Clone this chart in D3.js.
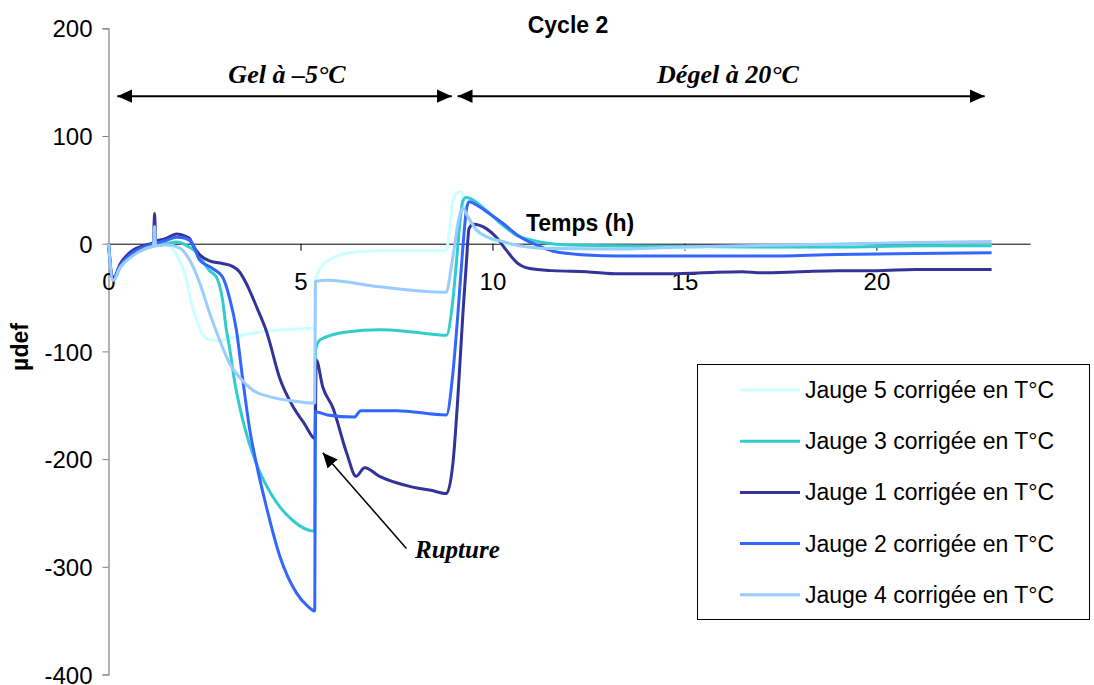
<!DOCTYPE html>
<html><head><meta charset="utf-8">
<script src="https://cdn.jsdelivr.net/npm/d3@7"></script>
<style>body{margin:0;background:#fff}</style>
</head><body>
<svg id="c" width="1094" height="685"></svg>
<script>
// ---- data (time in h, strain in µdef) ----
const xTicks = [0, 5, 10, 15, 20];
const yTicks = [-400, -300, -200, -100, 0, 100, 200];
const seriesNames = [
  "Jauge 5 corrigée en T°C",
  "Jauge 3 corrigée en T°C",
  "Jauge 1 corrigée en T°C",
  "Jauge 2 corrigée en T°C",
  "Jauge 4 corrigée en T°C"
];
const seriesColors = ["#ccffff", "#33cccc", "#333399", "#3366ff", "#99ccff"];

const jauge5 = [[0,0],[0.12,-34],[0.3,-23],[0.6,-12],[1.0,-4],[1.51,-1],[1.8,-12],[1.98,-27],[2.16,-55],[2.32,-74],[2.55,-88],[2.81,-90],[3.6,-84],[4.5,-80],[5.37,-78],[5.39,-34],[5.55,-21],[5.81,-14],[6.15,-9],[7.06,-6.5],[8.8,-6],[8.88,12],[8.97,40],[9.06,47],[9.19,48],[9.3,30],[9.5,15],[9.9,5],[10.3,0],[11,-3],[13,-4],[16,-4],[19,-3],[23,-2]];
const jauge3 = [[0,0],[0.12,-34],[0.3,-22],[0.6,-11],[1.0,-4],[1.5,0],[1.77,1.5],[2.0,-1],[2.29,-8],[2.63,-25],[2.81,-31],[2.97,-52],[3.07,-80],[3.15,-96],[3.28,-127],[3.5,-164],[3.85,-204],[4.28,-235],[4.8,-257],[5.37,-267],[5.39,-99],[5.52,-89],[6.2,-82],[7.06,-80],[7.92,-82],[8.8,-85],[8.97,-52],[9.06,-18],[9.15,19],[9.23,40],[9.32,43],[9.84,31],[10.27,17],[10.71,6.5],[11.05,3],[11.9,-1],[13,-2],[15,-2.5],[17,-3],[19,-3],[21,-2],[23,-2]];
const jauge1 = [[0,0],[0.12,-33],[0.3,-19],[0.6,-7],[1.0,-1],[1.17,1],[1.2,28],[1.23,3],[1.5,5],[1.77,9],[2.0,7],[2.11,5],[2.19,-1],[2.37,-10],[2.63,-16],[2.9,-18],[3.23,-21],[3.41,-26],[3.67,-43],[3.86,-59],[4.12,-82],[4.46,-125],[4.8,-151],[5.1,-167],[5.38,-181],[5.41,-108],[5.58,-133],[5.84,-152],[6.2,-194],[6.45,-216],[6.67,-208],[7.06,-216],[7.5,-222],[7.92,-226],[8.4,-229],[8.8,-232],[8.97,-204],[9.1,-142],[9.23,-65],[9.32,-18],[9.39,14],[9.5,18],[9.84,14],[10.1,6],[10.36,-6],[10.62,-17],[10.97,-23],[11.57,-25],[12.45,-26],[13.3,-28],[14.5,-28],[15.5,-27],[16.5,-26],[17,-27],[18,-26],[19,-25],[20,-25],[21,-24],[22,-24],[23,-24]];
const jauge2 = [[0,0],[0.12,-34],[0.3,-21],[0.6,-9],[1.0,-2],[1.5,3],[1.77,6],[2.0,5],[2.19,0],[2.37,-15],[2.71,-23],[2.97,-31],[3.15,-50],[3.33,-80],[3.5,-127],[3.68,-173],[3.85,-204],[4.11,-244],[4.46,-290],[4.89,-324],[5.2,-337],[5.37,-341],[5.39,-156],[5.7,-159],[6.4,-161],[6.57,-155],[7.5,-155],[8.8,-159],[8.97,-120],[9.1,-65],[9.23,-3],[9.32,31],[9.39,39],[9.67,34],[9.84,30],[10.27,19],[10.71,6.5],[11.14,-1],[11.58,-7],[12.45,-10.5],[13.3,-11.4],[15,-11.5],[17,-11.5],[19,-10],[21,-9],[23,-8.5]];
const jauge4 = [[0,0],[0.12,-34],[0.3,-22],[0.6,-12],[1.0,-4],[1.17,-2],[1.2,16],[1.23,-2],[1.51,-1],[1.85,-4],[2.11,-15],[2.37,-36],[2.63,-64],[2.89,-89],[3.15,-111],[3.41,-124],[3.76,-136],[4.19,-142],[4.8,-146],[5.37,-148],[5.39,-35],[5.7,-34],[7.06,-40],[8.8,-45],[8.93,-21],[9.01,-3],[9.1,19],[9.23,33],[9.36,25],[9.58,13],[9.88,6],[10.27,2],[10.71,-2],[11.5,-4.5],[13,-5],[15,-3],[18,-1],[21,1],[23,2]];
const seriesData = [jauge5, jauge3, jauge1, jauge2, jauge4];

// annotations (data units)
const gelArrow = [0.23, 8.94];
const degelArrow = [9.09, 22.82];
const phaseArrowY = 137;
const ruptureArrow = [[7.76, -283], [5.58, -194]];

// ---- drawing ----
const svg = d3.select("#c");
const x = d3.scaleLinear().domain([0, 24]).range([108.5, 1030]);
const y = d3.scaleLinear().domain([-400, 200]).range([674.5, 28.3]);
const sans = "'Liberation Sans', Arial, sans-serif";
const serif = "'Liberation Serif', 'Times New Roman', serif";

// y axis
const yAxis = svg.append("g").attr("transform", `translate(${x(0)},0)`)
  .call(d3.axisLeft(y).tickValues(yTicks).tickSize(6).tickPadding(10).tickFormat(d => String(d)));
yAxis.select(".domain").attr("stroke", "#808080").attr("stroke-width", 1.2);
yAxis.selectAll(".tick line").attr("stroke", "#808080");
yAxis.selectAll(".tick text").attr("font-family", sans).attr("font-size", 24).attr("fill", "#000")
  .attr("dy", "0.36em");

// x axis at y=0
const xAxis = svg.append("g").attr("transform", `translate(0,${y(0)})`)
  .call(d3.axisBottom(x).tickValues(xTicks).tickSize(7).tickPadding(22).tickSizeOuter(0).tickFormat(d => String(d)));
xAxis.select(".domain").attr("stroke", "#000").attr("stroke-width", 1);
xAxis.selectAll(".tick line").attr("stroke", "#000");
xAxis.selectAll(".tick text").attr("font-family", sans).attr("font-size", 24).attr("fill", "#000");

// lines
const line = d3.line().x(d => x(d[0])).y(d => y(d[1])).curve(d3.curveMonotoneX);
svg.append("g").selectAll("path").data(seriesData).join("path")
  .attr("d", line).attr("fill", "none")
  .attr("stroke", (d, i) => seriesColors[i])
  .attr("stroke-width", 3).attr("stroke-linejoin", "round");

// titles
svg.append("text").attr("x", 568).attr("y", 33).attr("text-anchor", "middle")
  .attr("font-family", sans).attr("font-weight", "bold").attr("font-size", 23).text("Cycle 2");
svg.append("text").attr("x", 580).attr("y", 231).attr("text-anchor", "middle")
  .attr("font-family", sans).attr("font-weight", "bold").attr("font-size", 23).text("Temps (h)");
svg.append("text").attr("transform", "translate(28,347) rotate(-90)").attr("text-anchor", "middle")
  .attr("font-family", sans).attr("font-weight", "bold").attr("font-size", 23).text("µdef");

// phase arrows
const defs = svg.append("defs");
defs.append("marker").attr("id", "ah").attr("viewBox", "0 0 10 10").attr("refX", 10).attr("refY", 5)
  .attr("markerWidth", 15).attr("markerHeight", 15).attr("markerUnits", "userSpaceOnUse")
  .attr("orient", "auto-start-reverse")
  .append("path").attr("d", "M0,0.5 L10,5 L0,9.5 Z").attr("fill", "#000");
function dblArrow(a) {
  svg.append("line").attr("x1", x(a[0])).attr("x2", x(a[1])).attr("y1", y(phaseArrowY)).attr("y2", y(phaseArrowY))
    .attr("stroke", "#000").attr("stroke-width", 2)
    .attr("marker-start", "url(#ah)").attr("marker-end", "url(#ah)");
}
dblArrow(gelArrow);
dblArrow(degelArrow);
svg.append("text").attr("x", 287).attr("y", 83).attr("text-anchor", "middle")
  .attr("font-family", serif).attr("font-style", "italic").attr("font-weight", "bold").attr("font-size", 26)
  .text("Gel à –5°C");
svg.append("text").attr("x", 728).attr("y", 83).attr("text-anchor", "middle")
  .attr("font-family", serif).attr("font-style", "italic").attr("font-weight", "bold").attr("font-size", 26)
  .text("Dégel à 20°C");

// rupture annotation
svg.append("line")
  .attr("x1", x(ruptureArrow[0][0])).attr("y1", y(ruptureArrow[0][1]))
  .attr("x2", x(ruptureArrow[1][0])).attr("y2", y(ruptureArrow[1][1]))
  .attr("stroke", "#000").attr("stroke-width", 1.5).attr("marker-end", "url(#ah)");
svg.append("text").attr("x", 415).attr("y", 558)
  .attr("font-family", serif).attr("font-style", "italic").attr("font-weight", "bold").attr("font-size", 25)
  .text("Rupture");

// legend
const lg = svg.append("g");
lg.append("rect").attr("x", 697.5).attr("y", 364.5).attr("width", 392).attr("height", 255)
  .attr("fill", "#fff").attr("stroke", "#000").attr("stroke-width", 1);
const rows = lg.selectAll("g.row").data(seriesNames).join("g").attr("class", "row")
  .attr("transform", (d, i) => `translate(0,${390 + i * 51.2})`);
rows.append("line").attr("x1", 740).attr("x2", 800).attr("y1", 0).attr("y2", 0)
  .attr("stroke", (d, i) => seriesColors[i]).attr("stroke-width", 3);
rows.append("text").attr("x", 805).attr("y", 8).attr("font-family", sans).attr("font-size", 23)
  .text(d => d);
</script>
</body></html>
